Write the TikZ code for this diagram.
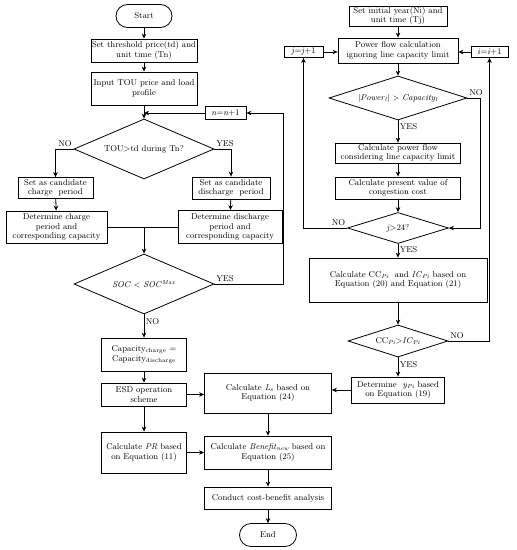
\documentclass[tikz,border=0pt]{standalone}
\usetikzlibrary{arrows.meta,positioning,shapes.geometric}

\begin{document}
\begin{tikzpicture}[x=1pt, y=-1pt, >={Stealth[length=5pt,width=4.5pt]}, line width=0.8pt,
    font=\fontsize{8.5}{9.6}\selectfont,
    box/.style={draw, align=center, inner sep=1pt},
    term/.style={draw, rounded corners=11.5pt, minimum width=56, minimum height=23},
    decision/.style={draw, diamond, aspect=3, inner sep=0pt},
    lbl/.style={inner sep=1.5pt}]
    \useasboundingbox (0,0) rectangle (517,550);

    \def\LX{144}   % x of left column
    \def\MX{268}   % x of middle column
    \def\RX{398}   % x of right column

    % left column
    \node[term] (start) at (\LX,16) {Start};
    \node[box, minimum width=106, minimum height=23] (thr) at (\LX,50.5) {Set threshold price(td) and\\unit time (Tn)};
    \node[box, minimum width=106, minimum height=33] (tou) at (\LX,88.5) {Input TOU price and load\\profile};
    \node[box, minimum width=41, minimum height=13] (incn) at (225.5,113) {\textit{n}=\textit{n}+1};
    \node[decision, minimum width=140, minimum height=60] (chk) at (\LX,149) {TOU>td during Tn?};
    \node[box, minimum width=75, minimum height=21] (cand1) at (55.5,188) {Set as candidate\\charge\ \ period};
    \node[box, minimum width=78, minimum height=22] (cand2) at (231,188) {Set as candidate\\discharge\ \ period};
    \node[box, minimum width=101, minimum height=32] (det1) at (56.5,227) {Determine charge\\period and\\corresponding capacity};
    \node[box, minimum width=104, minimum height=33] (det2) at (230,227) {Determine discharge\\period and\\corresponding capacity};
    \node[decision, minimum width=140, minimum height=60] (soc) at (\LX,284) {\textit{SOC} $<$ \textit{SOC}\textsuperscript{\textit{Max}}};
    \node[box, minimum width=85, minimum height=33] (capeq) at (\LX,354.5) {Capacity\textsubscript{charge} =\\Capacity\textsubscript{discharge}};
    \node[box, minimum width=85, minimum height=23] (esd) at (\LX,394.5) {ESD operation\\scheme};
    \node[box, minimum width=85, minimum height=41] (pr) at (\LX,452.5) {Calculate \textit{PR} based\\on Equation (11)};

    % middle column
    \node[box, minimum width=127, minimum height=40] (ls) at (\MX,393) {Calculate \textit{L}\textsubscript{\textit{s}} based on\\Equation (24)};
    \node[box, minimum width=127, minimum height=33] (ben) at (\MX,452.5) {Calculate \textit{Benefit}\textsubscript{\textit{new}} based on\\Equation (25)};
    \node[box, minimum width=127, minimum height=22] (cba) at (\MX,498) {Conduct cost-benefit analysis};
    \node[term, minimum width=57] (fin) at (\MX,535) {End};

    % right column
    \node[box, minimum width=98, minimum height=18] (init) at (\RX,16) {Set initial year(Ni) and\\unit time (Tj)};
    \node[box, minimum width=120, minimum height=25] (pf) at (\RX,50.5) {Power flow calculation\\ignoring line capacity limit};
    \node[box, minimum width=39, minimum height=11] (incj) at (303.5,52) {\textit{j}=\textit{j}+1};
    \node[box, minimum width=37, minimum height=11] (inci) at (489.5,52) {\textit{i}=\textit{i}+1};
    \node[decision, minimum width=138, minimum height=44] (pwr) at (\RX,98) {$|$\textit{Power}\textsubscript{\textit{l}}$|$ $>$ \textit{Capacity}\textsubscript{\textit{l}}};
    \node[box, minimum width=125, minimum height=20] (pfc) at (\RX,153) {Calculate power flow\\considering line capacity limit};
    \node[box, minimum width=125, minimum height=22] (pv) at (\RX,188) {Calculate present value of\\congestion cost};
    \node[decision, minimum width=101, minimum height=31] (j24) at (\RX,228) {\textit{j}>24?};
    \node[box, minimum width=178, minimum height=44] (ccic) at (\RX,280) {Calculate CC\textsubscript{\textit{Pi}}\ \ and \textit{IC}\textsubscript{\textit{Pi}} based on\\Equation (20) and Equation (21)};
    \node[decision, minimum width=100, minimum height=32] (ccd) at (\RX,341) {CC\textsubscript{\textit{Pi}}>\textit{IC}\textsubscript{\textit{Pi}}};
    \node[box, minimum width=93, minimum height=26] (ydet) at (\RX,390) {Determine\ \ \textit{y}\textsubscript{\textit{Pi}} based\\on Equation (19)};

    % left connectors
    \draw[->] (start) -- (thr);
    \draw[->] (thr) -- (tou);
    \draw[->] (tou) -- (chk);
    \draw[->] (incn.west) -- (incn.west -| chk.north);
    \draw[->] (chk.west) node[lbl, above left]{NO} -| (cand1);
    \draw[->] (chk.east) node[lbl, above right]{YES} -| (cand2);
    \draw[->] (cand1) -- (det1);
    \draw[->] (cand2) -- (det2);
    \draw (det1.east) -- (det2.west);
    \draw[->] (det1.east -| soc.north) -- (soc.north);
    \draw[->] (soc.east) node[lbl, above right]{YES} -| ([xshift=37]incn.east) -- (incn.east);
    \draw[->] (soc) -- node[lbl, pos=0.3, right]{NO} (capeq);
    \draw[->] (capeq) -- (esd);
    \draw[->] (esd) -- (pr);
    \draw[->] (esd.east) -- (esd.east -| ls.west);
    \draw[->] (pr.east) -- (pr.east -| ben.west);

    % middle connectors
    \draw[->] (ls) -- (ben);
    \draw[->] (ben) -- (cba);
    \draw[->] (cba) -- (fin);

    % right connectors
    \draw[->] (init) -- (pf);
    \draw[->] (incj.east) -- (incj.east -| pf.west);
    \draw[->] (inci.west) -- (inci.west -| pf.east);
    \draw[->] (pf) -- (pwr);
    \draw[->] (pwr) -- node[lbl, pos=0.3, right]{YES} (pfc);
    \draw[->] (pwr.east) node[lbl, above right]{NO} -- ([xshift=13]pwr.east) |- (j24.east);
    \draw[->] (pfc) -- (pv);
    \draw[->] (pv) -- (j24);
    \draw[->] (j24.west) node[lbl, above left]{NO} -| (incj.south);
    \draw[->] (j24) -- node[lbl, pos=0.4, right]{YES} (ccic);
    \draw[->] (ccic) -- (ccd);
    \draw[->] (ccd.east) node[lbl, above right]{NO} -| (inci.south);
    \draw[->] (ccd) -- node[lbl, pos=0.4, right]{YES} (ydet);
    \draw[->] (ydet.west) -- (ydet.west -| ls.east);
\end{tikzpicture}
\end{document}
